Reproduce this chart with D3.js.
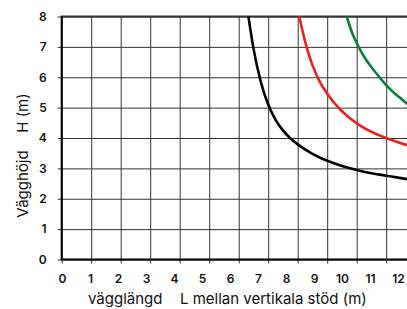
<!DOCTYPE html>
<html>
<head>
<meta charset="utf-8">
<script src="https://cdn.jsdelivr.net/npm/d3@7"></script>
<style>
  body { margin: 0; background: #fff; }
  svg { display: block; font-family: Inter, "Noto Sans", sans-serif; }
</style>
</head>
<body>
<div id="container"></div>
<script>
const xTicks = [0, 1, 2, 3, 4, 5, 6, 7, 8, 9, 10, 11, 12];
const yTicks = [0, 1, 2, 3, 4, 5, 6, 7, 8];

// vägglängd L (m) -> vägghöjd H (m)
const blackL = [6.33, 6.5, 6.75, 7.0, 7.25, 7.5, 7.75, 8.0, 8.5, 9.0, 9.5, 10.0, 10.5, 11.0, 11.5, 11.8];
const blackH = [8.0, 6.95, 5.85, 5.1, 4.6, 4.25, 3.99, 3.79, 3.48, 3.25, 3.08, 2.95, 2.84, 2.76, 2.68, 2.63];
const redL = [8.05, 8.3, 8.5, 8.75, 9.0, 9.5, 10.0, 10.5, 11.0, 11.5, 11.8];
const redH = [8.0, 7.0, 6.4, 5.85, 5.46, 4.88, 4.48, 4.2, 4.0, 3.83, 3.74];
const greenL = [9.66, 9.85, 10.05, 10.3, 10.55, 10.8, 11.0, 11.25, 11.5, 11.8];
const greenH = [8.0, 7.45, 7.03, 6.6, 6.27, 5.97, 5.74, 5.5, 5.3, 5.05];

const width = 407;
const height = 309;

const svg = d3.select("#container").append("svg")
    .attr("width", width)
    .attr("height", height);

const x = d3.scaleLinear().domain([0, 12]).range([61.7, 415.7]);
const y = d3.scaleLinear().domain([0, 8]).range([259.5, 16.5]);
// tick labels in the original sit a bit tighter than the grid
const xLab = d3.scaleLinear().domain([0, 12]).range([62, 398]);

// vertical gridlines (poke 4px below the axis)
svg.append("g")
    .attr("transform", `translate(0,${y(8)})`)
    .call(d3.axisBottom(x).tickValues(xTicks).tickSize(y(0) - y(8) + 4).tickFormat(""))
    .call(g => g.select(".domain").remove())
    .call(g => g.selectAll("line").attr("stroke", "#333").attr("stroke-width", 1));

// horizontal gridlines (poke 4px left of the axis)
svg.append("g")
    .attr("transform", `translate(${x(12)},0)`)
    .call(d3.axisLeft(y).tickValues(yTicks).tickSize(x(12) - x(0) + 4).tickFormat(""))
    .call(g => g.select(".domain").remove())
    .call(g => g.selectAll("line").attr("stroke", "#333").attr("stroke-width", 1));

// frame
svg.append("line")
    .attr("x1", x(0) - 1).attr("x2", width)
    .attr("y1", y(8)).attr("y2", y(8))
    .attr("stroke", "#333").attr("stroke-width", 2);
svg.append("line")
    .attr("x1", x(0)).attr("x2", x(0))
    .attr("y1", y(8)).attr("y2", y(0))
    .attr("stroke", "#000").attr("stroke-width", 2);
svg.append("line")
    .attr("x1", x(0) - 1).attr("x2", width)
    .attr("y1", y(0)).attr("y2", y(0))
    .attr("stroke", "#000").attr("stroke-width", 2);

// curves
const line = d3.line()
    .x(d => x(d[0]))
    .y(d => y(d[1]))
    .curve(d3.curveMonotoneX);

const series = [
    { L: blackL, H: blackH, color: "#000" },
    { L: redL, H: redH, color: "#e8231f" },
    { L: greenL, H: greenH, color: "#0b7d3a" }
];

svg.append("g")
    .selectAll("path")
    .data(series)
    .join("path")
    .attr("fill", "none")
    .attr("stroke", d => d.color)
    .attr("stroke-width", 2.6)
    .attr("d", d => line(d.L.map((l, i) => [l, d.H[i]])));

// tick labels
const styleTicks = g => g.selectAll("text")
    .attr("font-family", "Inter, sans-serif")
    .attr("font-size", 12)
    .attr("font-weight", 600)
    .attr("fill", "#111");

svg.append("g")
    .attr("transform", `translate(0,${y(0) + 12})`)
    .call(d3.axisBottom(xLab).tickValues(xTicks).tickSize(0).tickFormat(d3.format("d")))
    .call(g => g.select(".domain").remove())
    .call(styleTicks);

svg.append("g")
    .attr("transform", `translate(${x(0) - 12},0)`)
    .call(d3.axisLeft(y).tickValues(yTicks).tickSize(0).tickFormat(d3.format("d")))
    .call(g => g.select(".domain").remove())
    .call(styleTicks);

// axis titles
svg.append("text")
    .attr("transform", "translate(28,184) rotate(-90)")
    .attr("text-anchor", "middle")
    .attr("font-size", 15)
    .attr("fill", "#111")
    .text("Vägghöjd");

svg.append("text")
    .attr("transform", "translate(28,113) rotate(-90)")
    .attr("text-anchor", "middle")
    .attr("font-size", 15)
    .attr("fill", "#111")
    .text("H (m)");

svg.append("text")
    .attr("x", 88)
    .attr("y", 304)
    .attr("font-size", 15)
    .attr("fill", "#111")
    .text("vägglängd");

svg.append("text")
    .attr("x", 180)
    .attr("y", 304)
    .attr("font-size", 15)
    .attr("fill", "#111")
    .text("L mellan vertikala stöd (m)");
</script>
</body>
</html>
